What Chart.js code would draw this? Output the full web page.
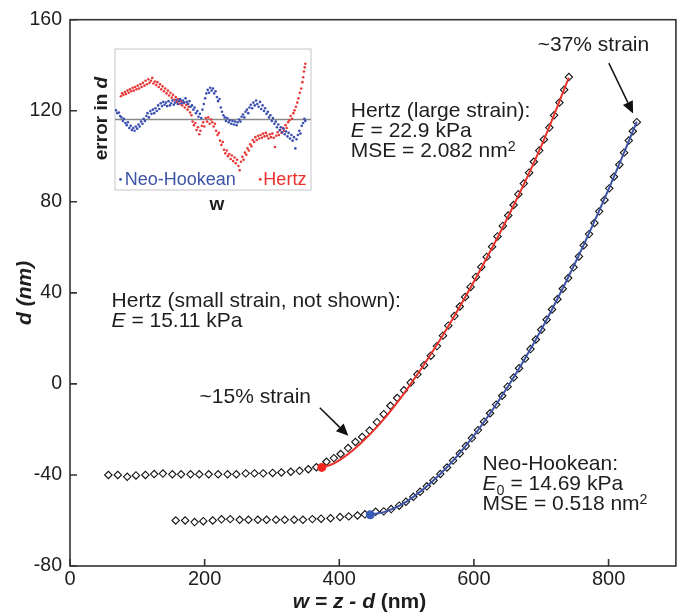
<!DOCTYPE html>
<html>
<head>
<meta charset="utf-8">
<script src="https://cdn.jsdelivr.net/npm/chart.js@4"></script>
<style>
  html, body { margin: 0; padding: 0; background: #fff; }
  #wrap { position: relative; width: 681px; height: 616px; }
  #inset { position: absolute; left: 90px; top: 40px; }
</style>
</head>
<body>
<div id="wrap">
  <canvas id="chMain" width="681" height="616"></canvas>
  <canvas id="inset" width="230" height="175"></canvas>
</div>
<script>
// values (w and d in nm)
var hertzW = [57, 71, 85, 98, 112, 125, 138, 152, 165, 179, 192, 206, 220, 234, 247, 261, 274, 287, 301, 314, 328, 341, 354, 366,
    381, 392, 402, 413, 424, 434, 445, 456, 466, 476, 486, 496, 506, 516, 526, 536, 545, 554, 562, 571, 579, 587, 595, 603,
    611, 619, 627, 635, 643, 651, 659, 666, 674, 682, 689, 697, 704, 712, 719, 727, 734, 741];
var hertzD = [-40.0, -40.0, -40.8, -40.2, -40.0, -39.6, -39.4, -39.7, -39.7, -39.7, -39.7, -39.7, -39.7, -39.7, -39.7, -39.3, -39.3, -39.3, -39.1, -38.9, -38.6, -38.2, -37.5, -36.6,
    -34.2, -32.6, -30.8, -28.2, -25.5, -23.3, -20.5, -16.8, -13.3, -9.6, -6.2, -2.8, 0.6, 4.2, 8.2, 12.4, 16.6, 21.2, 25.6, 29.8, 34.0, 38.2, 42.6, 47.0,
    51.4, 55.8, 60.3, 64.8, 69.4, 74.0, 78.6, 83.3, 88.0, 92.8, 97.6, 102.5, 107.4, 112.6, 118.0, 123.6, 129.2, 134.8];

var neoW = [157, 171, 185, 198, 212, 225, 238, 252, 265, 279, 292, 306, 319, 333, 346, 360, 373, 387, 401, 414, 427, 438,
    454, 466, 477, 489, 499, 510, 520, 530, 540, 550, 560, 569, 579, 588, 597, 606, 615, 624, 633, 642, 650, 659, 667, 676,
    684, 692, 700, 708, 716, 724, 732, 740, 748, 756, 763, 771, 779, 786, 794, 801, 808, 816, 823, 830, 836, 842];
var neoD = [-60.0, -60.0, -60.7, -60.3, -60.0, -59.5, -59.4, -59.7, -59.7, -59.7, -59.7, -59.7, -59.7, -59.7, -59.7, -59.4, -59.2, -59.0, -58.5, -58.2, -57.8, -57.3,
    -56.2, -56.0, -55.0, -53.5, -51.8, -49.6, -47.4, -45.0, -42.4, -39.6, -36.7, -33.7, -30.6, -27.3, -23.8, -20.3, -16.6, -12.9, -9.1, -5.2, -1.2, 2.8, 6.9, 11.1,
    15.3, 19.5, 23.8, 28.2, 32.7, 37.2, 41.8, 46.5, 51.2, 56.0, 60.9, 65.8, 70.7, 75.8, 80.8, 85.9, 91.0, 96.3, 101.6, 106.9, 111.0, 115.0];

var hertzFitW = [374, 390, 410, 430, 460, 500, 550, 600, 650, 700, 741];
var hertzFitD = [-36.7, -35.2, -31.5, -26.6, -17.6, -2.6, 19.5, 45.0, 73.0, 104.5, 134.5];
var neoFitW = [446, 470, 500, 550, 600, 650, 700, 750, 800, 842];
var neoFitD = [-57.5, -56.0, -51.7, -39.6, -22.7, -1.4, 23.8, 52.9, 85.5, 115.2];

var contactHertz = [374, -36.7];
var contactNeo = [446, -57.5];

var xTickStep = 200, xMin = 0, xMax = 900;
var yTickStep = 40, yMin = -80, yMax = 160;

// inset: error in d vs w (arbitrary units)
var insetNeo = [[0.5,1.3],[1.2,0.9],[2.0,1.0],[2.6,0.5],[3.3,0.3],[4.0,-0.2],[4.6,0.1],[5.3,-0.5],[6.0,-0.8],[6.6,-0.4],[7.3,-1.2],[8.0,-0.9],[8.6,-1.5],[9.3,-1.2],[10.0,-1.6],[10.6,-1.0],[11.3,-1.3],[12.0,-0.7],[12.6,-1.0],[13.3,-0.3],[14.0,-0.6],[14.6,0.1],[15.3,-0.2],[16.0,0.5],[16.6,0.9],[17.3,0.3],[18.0,1.2],[18.6,0.8],[19.3,1.4],[20.0,0.9],[20.6,1.6],[21.3,1.2],[22.0,2.0],[22.6,1.5],[23.3,2.3],[24.0,1.9],[24.6,2.5],[25.3,2.1],[26.0,2.4],[26.6,1.9],[27.3,2.6],[28.0,2.0],[28.6,2.3],[29.3,2.7],[30.0,2.1],[30.6,2.4],[31.3,2.8],[32.0,2.2],[32.6,2.6],[33.3,2.9],[34.0,2.3],[34.6,2.7],[35.3,2.4],[36.0,3.0],[36.6,2.5],[37.3,2.2],[38.0,2.6],[38.6,1.8],[39.3,2.0],[40.0,1.4],[40.6,1.7],[41.3,0.9],[42.0,1.2],[42.6,0.4],[43.3,0.8],[44.0,0.2],[44.6,1.4],[45.3,2.2],[46.0,3.0],[46.6,3.7],[47.3,4.2],[48.0,3.8],[48.6,4.5],[49.3,4.1],[50.0,4.4],[50.6,3.7],[51.3,4.0],[52.0,3.2],[52.6,2.6],[53.3,2.9],[54.0,1.7],[54.6,1.1],[55.3,0.6],[56.0,0.3],[56.6,-0.2],[57.3,0.2],[58.0,-0.4],[58.6,-0.1],[59.3,-0.6],[60.0,-0.2],[60.6,-0.7],[61.3,-0.3],[62.0,-0.8],[62.6,-0.4],[63.3,0.0],[64.0,-0.3],[64.6,0.4],[65.3,0.7],[66.0,0.3],[66.6,1.1],[67.3,1.4],[68.0,0.9],[68.6,1.7],[69.3,2.1],[70.0,1.6],[70.6,2.4],[71.3,2.0],[72.0,2.7],[72.6,2.2],[73.3,1.8],[74.0,2.5],[74.6,1.5],[75.3,2.0],[76.0,1.2],[76.6,1.6],[77.3,0.8],[78.0,1.1],[78.6,0.3],[79.3,0.6],[80.0,-0.2],[80.6,0.2],[81.3,-0.6],[82.0,-0.3],[82.6,-1.1],[83.3,-0.7],[84.0,-1.5],[84.6,-1.1],[85.3,-1.8],[86.0,-1.3],[86.6,-2.1],[87.3,-1.7],[88.0,-2.4],[88.6,-1.9],[89.3,-2.7],[90.0,-2.2],[90.6,-3.0],[91.3,-2.5],[92.0,-4.1],[92.6,-2.8],[93.3,-2.2],[94.0,-1.6],[94.6,-2.0],[95.3,-0.9],[96.0,-0.5],[96.6,0.1],[97.1,-0.2]];
var insetHertz = [[3.0,3.3],[3.6,3.7],[4.3,3.5],[5.0,3.9],[5.6,3.6],[6.3,4.1],[7.0,3.8],[7.6,4.3],[8.3,4.0],[9.0,4.5],[9.6,4.1],[10.3,4.6],[11.0,4.3],[11.6,4.8],[12.3,4.4],[13.0,5.0],[13.6,4.6],[14.3,5.2],[15.0,4.8],[15.6,5.5],[16.3,5.0],[17.0,5.7],[17.6,5.2],[18.3,5.5],[19.0,5.9],[19.6,5.1],[20.3,5.4],[21.0,4.9],[21.6,5.3],[22.3,4.6],[23.0,5.0],[23.6,4.3],[24.3,4.7],[25.0,4.0],[25.6,4.4],[26.3,3.7],[27.0,4.1],[27.6,3.4],[28.3,3.8],[29.0,3.1],[29.6,3.5],[30.3,2.8],[31.0,3.2],[31.6,2.5],[32.3,2.9],[33.0,2.2],[33.6,2.6],[34.3,2.0],[35.0,2.4],[35.6,1.7],[36.3,2.1],[37.0,1.4],[37.6,1.8],[38.3,1.0],[39.0,0.6],[39.6,-0.3],[40.3,-0.8],[41.0,-0.5],[41.6,-1.5],[42.3,-1.1],[43.0,-2.1],[43.6,-1.6],[44.3,-0.9],[45.0,-0.4],[45.6,-1.0],[46.3,0.2],[47.0,-0.3],[47.6,0.3],[48.3,-0.6],[49.0,0.0],[49.6,-0.4],[50.3,-1.0],[51.0,-0.6],[51.6,-1.6],[52.3,-2.2],[53.0,-1.9],[53.6,-3.0],[54.3,-3.6],[55.0,-3.2],[55.6,-4.3],[56.3,-4.8],[57.0,-4.4],[57.6,-5.2],[58.3,-4.9],[59.0,-5.6],[59.6,-5.1],[60.3,-5.9],[61.0,-5.4],[61.6,-6.2],[62.3,-5.7],[63.0,-6.6],[63.6,-7.2],[64.3,-6.0],[65.0,-5.3],[65.6,-5.7],[66.3,-4.7],[67.0,-5.0],[67.6,-4.1],[68.3,-4.4],[69.0,-3.5],[69.6,-3.8],[70.3,-2.9],[71.0,-3.2],[71.6,-2.5],[72.3,-2.9],[73.0,-2.3],[73.6,-2.7],[74.3,-2.2],[75.0,-2.6],[75.6,-2.0],[76.3,-2.4],[77.0,-1.9],[77.6,-2.3],[78.3,-2.7],[79.0,-2.1],[79.6,-2.5],[80.3,-2.0],[81.0,-2.6],[81.6,-3.9],[82.3,-2.3],[83.0,-1.8],[83.6,-2.2],[84.3,-1.5],[85.0,-1.9],[85.6,-1.2],[86.3,-1.6],[87.0,-0.8],[87.6,-1.2],[88.3,-0.4],[89.0,-0.1],[89.6,0.5],[90.3,0.1],[91.0,0.9],[91.6,1.3],[92.3,1.8],[93.0,2.4],[93.6,3.0],[94.3,3.8],[95.0,4.4],[95.6,5.3],[96.0,6.0],[96.4,6.8],[96.8,7.4],[97.1,7.9]];

var FONT = "'Liberation Sans', Arial, sans-serif";
var INK = '#1e1e1e';
var RED = '#e8322b', BLUE = '#3c53a6';
Chart.defaults.font.family = FONT;
Chart.defaults.color = INK;

function pts(xs, ys) {
    return xs.map(function (x, i) { return { x: x, y: ys[i] }; });
}

// draw a line of text made of styled pieces, returns end x
function drawRuns(ctx, x, y, runs, size) {
    runs.forEach(function (r) {
        var fs = (r.sup || r.sub) ? size * 0.68 : size;
        ctx.font = (r.i ? 'italic ' : '') + (r.b ? 'bold ' : '') + fs + 'px ' + FONT;
        var dy = r.sup ? -size * 0.32 : (r.sub ? size * 0.25 : 0);
        ctx.fillText(r.t, x, y + dy);
        x += ctx.measureText(r.t).width;
    });
    return x;
}
function runsWidth(ctx, runs, size) {
    var w = 0;
    runs.forEach(function (r) {
        var fs = (r.sup || r.sub) ? size * 0.68 : size;
        ctx.font = (r.i ? 'italic ' : '') + (r.b ? 'bold ' : '') + fs + 'px ' + FONT;
        w += ctx.measureText(r.t).width;
    });
    return w;
}

// annotations, anchored in data coordinates (left edge, first baseline)
var notes = [
    { w: 694.7, d: 146.2, lines: [[{ t: '~37% strain' }]] },
    { w: 417, d: 117.3, lines: [[{ t: 'Hertz (large strain):' }], [{ t: 'E', i: 1 }, { t: ' = 22.9 kPa' }], [{ t: 'MSE = 2.082 nm' }, { t: '2', sup: 1 }]] },
    { w: 61.7, d: 33.9, lines: [[{ t: 'Hertz (small strain, not shown):' }], [{ t: 'E', i: 1 }, { t: ' = 15.11 kPa' }]] },
    { w: 192.4, d: -8.4, lines: [[{ t: '~15% strain' }]] },
    { w: 612.9, d: -37.7, lines: [[{ t: 'Neo-Hookean:' }], [{ t: 'E', i: 1 }, { t: '0', sub: 1 }, { t: ' = 14.69 kPa' }], [{ t: 'MSE = 0.518 nm' }, { t: '2', sup: 1 }]] }
];
var arrows = [
    { from: [800.4, 140.9], to: [836.4, 118.8] },
    { from: [371, -10.5], to: [413.5, -22.8] }
];

var frameTicks = {
    id: 'frameTicks',
    afterDraw: function (chart) {
        var ctx = chart.ctx, a = chart.chartArea;
        var xs = chart.scales.x, ys = chart.scales.y;
        ctx.save();
        ctx.strokeStyle = '#333';
        ctx.lineWidth = 1.6;
        ctx.strokeRect(a.left, a.top, a.right - a.left, a.bottom - a.top);
        ctx.beginPath();
        xs.ticks.forEach(function (t) {
            var px = xs.getPixelForValue(t.value);
            ctx.moveTo(px, a.bottom); ctx.lineTo(px, a.bottom - 7);
        });
        ys.ticks.forEach(function (t) {
            var py = ys.getPixelForValue(t.value);
            ctx.moveTo(a.left, py); ctx.lineTo(a.left + 7, py);
        });
        ctx.stroke();

        // x axis title, mixed styles
        var xr = [{ t: 'w = z - d', i: 1, b: 1 }, { t: ' (nm)', b: 1 }];
        var tw = runsWidth(ctx, xr, 21);
        ctx.fillStyle = INK;
        ctx.textBaseline = 'alphabetic';
        drawRuns(ctx, xs.getPixelForValue(430) - tw / 2, a.bottom + 42, xr, 21);

        // notes
        notes.forEach(function (n) {
            var x0 = xs.getPixelForValue(n.w), y0 = ys.getPixelForValue(n.d);
            n.lines.forEach(function (ln, k) {
                drawRuns(ctx, x0, y0 + k * 20.3, ln, 21);
            });
        });

        // arrows
        ctx.strokeStyle = '#111';
        ctx.fillStyle = '#111';
        ctx.lineWidth = 1.5;
        arrows.forEach(function (ar) {
            var x1 = xs.getPixelForValue(ar.from[0]), y1 = ys.getPixelForValue(ar.from[1]);
            var x2 = xs.getPixelForValue(ar.to[0]), y2 = ys.getPixelForValue(ar.to[1]);
            var ang = Math.atan2(y2 - y1, x2 - x1), hl = 12, hw = 5.5;
            ctx.beginPath();
            ctx.moveTo(x1, y1);
            ctx.lineTo(x2 - hl * Math.cos(ang), y2 - hl * Math.sin(ang));
            ctx.stroke();
            ctx.beginPath();
            ctx.moveTo(x2, y2);
            ctx.lineTo(x2 - hl * Math.cos(ang) + hw * Math.sin(ang), y2 - hl * Math.sin(ang) - hw * Math.cos(ang));
            ctx.lineTo(x2 - hl * Math.cos(ang) - hw * Math.sin(ang), y2 - hl * Math.sin(ang) + hw * Math.cos(ang));
            ctx.closePath();
            ctx.fill();
        });
        ctx.restore();
    }
};

var mainChart = new Chart(document.getElementById('chMain').getContext('2d'), {
    type: 'scatter',
    data: {
        datasets: [
            { label: 'Hertz contact', data: [{ x: contactHertz[0], y: contactHertz[1] }], pointRadius: 4.5, backgroundColor: '#f2281f', borderWidth: 0, order: 0 },
            { label: 'Neo contact', data: [{ x: contactNeo[0], y: contactNeo[1] }], pointRadius: 4.5, backgroundColor: '#3a5bb5', borderWidth: 0, order: 0 },
            { label: 'Hertz fit', data: pts(hertzFitW, hertzFitD), showLine: true, pointRadius: 0, borderColor: RED, borderWidth: 2, cubicInterpolationMode: 'monotone', order: 1 },
            { label: 'Neo-Hookean fit', data: pts(neoFitW, neoFitD), showLine: true, pointRadius: 0, borderColor: BLUE, borderWidth: 2, cubicInterpolationMode: 'monotone', order: 1 },
            { label: 'data 1', data: pts(hertzW, hertzD), pointStyle: 'rectRot', pointRadius: 3.7, borderWidth: 1.1, borderColor: '#111', backgroundColor: '#fff', order: 2 },
            { label: 'data 2', data: pts(neoW, neoD), pointStyle: 'rectRot', pointRadius: 3.7, borderWidth: 1.1, borderColor: '#111', backgroundColor: '#fff', order: 2 }
        ]
    },
    options: {
        responsive: false,
        animation: false,
        layout: { padding: { top: 16, right: 2, left: 0, bottom: 0 } },
        plugins: { legend: { display: false }, tooltip: { enabled: false } },
        scales: {
            x: {
                type: 'linear', min: xMin, max: xMax,
                grid: { display: false, drawTicks: false },
                border: { display: false },
                ticks: { stepSize: xTickStep, includeBounds: false, maxRotation: 0, padding: 1, color: INK, font: { size: 20 } },
                afterFit: function (s) { s.height = 50; }
            },
            y: {
                min: yMin, max: yMax,
                grid: { display: false, drawTicks: false },
                border: { display: false },
                ticks: { stepSize: yTickStep, padding: 8, color: INK, font: { size: 19.5 } },
                title: { display: true, text: 'd (nm)', color: INK, font: { size: 21, weight: 'bold', style: 'italic' }, padding: { top: 13, bottom: 0 } },
                afterFit: function (s) { s.width = 70; }
            }
        }
    },
    plugins: [frameTicks]
});

// ---- inset ----
var insetDecor = {
    id: 'insetDecor',
    beforeDatasetsDraw: function (chart) {
        var ctx = chart.ctx, a = chart.chartArea, ys = chart.scales.y;
        ctx.save();
        ctx.strokeStyle = '#cfcfcf';
        ctx.lineWidth = 1.2;
        ctx.strokeRect(a.left, a.top, a.right - a.left, a.bottom - a.top);
        ctx.strokeStyle = '#8a8a8a';
        ctx.lineWidth = 1.5;
        ctx.beginPath();
        ctx.moveTo(a.left, ys.getPixelForValue(0));
        ctx.lineTo(a.right, ys.getPixelForValue(0));
        ctx.stroke();
        ctx.restore();
    },
    afterDraw: function (chart) {
        var ctx = chart.ctx, a = chart.chartArea, xs = chart.scales.x, ys = chart.scales.y;
        ctx.save();
        ctx.textBaseline = 'alphabetic';
        // legend
        ctx.fillStyle = BLUE;
        ctx.beginPath(); ctx.arc(xs.getPixelForValue(2.8), ys.getPixelForValue(-8.5), 1.4, 0, Math.PI * 2); ctx.fill();
        ctx.font = '18px ' + FONT;
        ctx.fillText('Neo-Hookean', xs.getPixelForValue(5.0), ys.getPixelForValue(-9.35));
        ctx.fillStyle = '#e8302a';
        ctx.beginPath(); ctx.arc(xs.getPixelForValue(74.1), ys.getPixelForValue(-8.5), 1.4, 0, Math.PI * 2); ctx.fill();
        ctx.fillText('Hertz', xs.getPixelForValue(75.7), ys.getPixelForValue(-9.35));
        // axis labels
        ctx.fillStyle = INK;
        ctx.font = 'bold 19px ' + FONT;
        ctx.textAlign = 'center';
        ctx.fillText('w', (a.left + a.right) / 2 + 4, a.bottom + 20);
        ctx.textAlign = 'left';
        var er = [{ t: 'error in ', b: 1 }, { t: 'd', b: 1, i: 1 }];
        var ew = runsWidth(ctx, er, 19);
        ctx.translate(a.left - 8, (a.top + a.bottom) / 2 - 1);
        ctx.rotate(-Math.PI / 2);
        drawRuns(ctx, -ew / 2, 0, er, 19);
        ctx.restore();
    }
};

var insetChart = new Chart(document.getElementById('inset').getContext('2d'), {
    type: 'scatter',
    data: {
        datasets: [
            { label: 'Neo-Hookean', data: insetNeo.map(function (p) { return { x: p[0], y: p[1] }; }), pointRadius: 1.3, borderWidth: 0, backgroundColor: '#3b4fb0' },
            { label: 'Hertz', data: insetHertz.map(function (p) { return { x: p[0], y: p[1] }; }), pointRadius: 1.3, borderWidth: 0, backgroundColor: '#e63b3b' }
        ]
    },
    options: {
        responsive: false,
        animation: false,
        layout: { padding: { left: 25, right: 9, top: 9, bottom: 25 } },
        plugins: { legend: { display: false }, tooltip: { enabled: false } },
        scales: {
            x: { display: false, min: 0, max: 100 },
            y: { display: false, min: -10, max: 10 }
        }
    },
    plugins: [insetDecor]
});
</script>
</body>
</html>
